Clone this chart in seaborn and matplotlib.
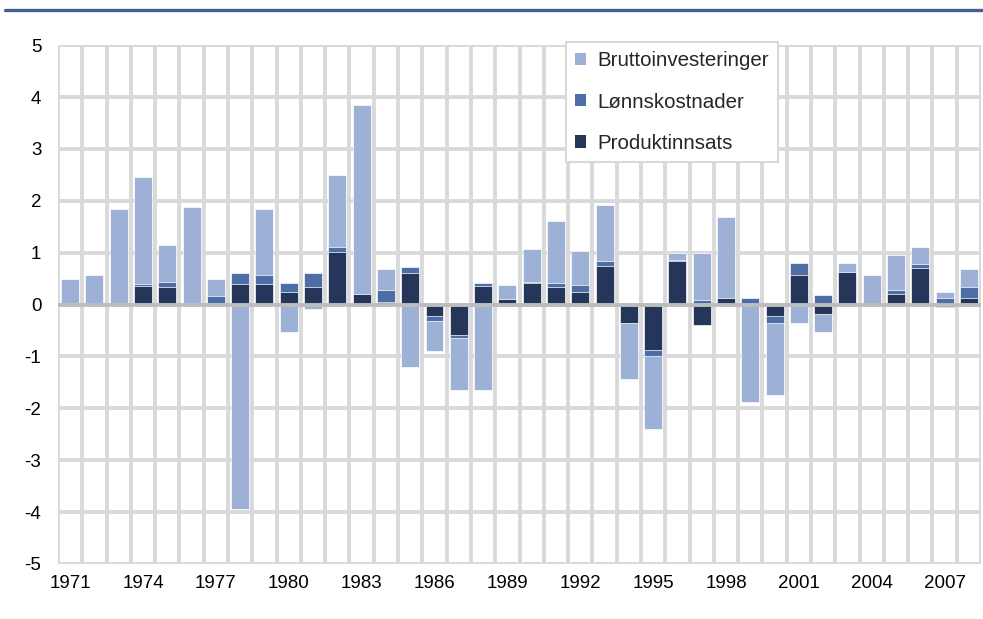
"""
Stacked bar chart: contributions from Produktinnsats, Lønnskostnader and
Bruttoinvesteringer per year, 1971-2008.
Positive and negative parts are stacked separately, like in Excel.
"""

import numpy as np
import matplotlib
matplotlib.use('Agg')
import matplotlib.pyplot as plt
from matplotlib.patches import Patch
from matplotlib.lines import Line2D
import seaborn as sns

# Data
years = list(range(1971, 2009))
produktinnsats = [0.03, 0.00, 0.03, 0.36, 0.33, 0.00, 0.03, 0.40, 0.40, 0.25,
                  0.33, 1.02, 0.21, 0.05, 0.61, -0.23, -0.58, 0.36, 0.10,
                  0.41, 0.33, 0.25, 0.74, -0.35, -0.88, 0.83, -0.40, 0.13,
                  0.00, -0.23, 0.56, -0.19, 0.63, -0.03, 0.21, 0.71, -0.04,
                  0.13]
lonnskostnader = [0.00, 0.00, 0.00, 0.04, 0.11, 0.03, 0.14, 0.21, 0.16, 0.17,
                  0.28, 0.08, 0.00, 0.24, 0.12, -0.08, -0.07, 0.06, 0.00,
                  0.03, 0.08, 0.12, 0.09, 0.03, -0.12, 0.03, 0.09, 0.00,
                  0.12, -0.12, 0.25, 0.19, 0.00, 0.00, 0.08, 0.08, 0.13,
                  0.20]
bruttoinvesteringer = [0.46, 0.57, 1.81, 2.06, 0.71, 1.85, 0.32, -3.95, 1.28,
                       -0.52, -0.08, 1.40, 3.64, 0.40, -1.21, -0.59, -0.99,
                       -1.64, 0.28, 0.63, 1.20, 0.66, 1.09, -1.09, -1.40,
                       0.14, 0.91, 1.56, -1.87, -1.40, -0.36, -0.33, 0.18,
                       0.57, 0.67, 0.32, 0.11, 0.36]
series_names = ['Produktinnsats', 'Lønnskostnader', 'Bruttoinvesteringer']
colors = ['#26365A', '#4C6DA5', '#9DB0D5']
y_ticks = list(range(-5, 6))
x_label_step = 3


def stacked_levels(values_list):
    # cumulative top of each segment, positive and negative kept apart
    arr = np.array(values_list)
    pos = np.cumsum(np.clip(arr, 0, None), axis=0)
    neg = np.cumsum(np.clip(arr, None, 0), axis=0)
    return pos, neg


def make_plot():
    sns.set_style('white')
    plt.rcParams['font.family'] = ['Liberation Sans', 'DejaVu Sans']
    plt.rcParams['axes.unicode_minus'] = False

    fig = plt.figure(figsize=(9.83, 6.19), dpi=100)
    ax = fig.add_axes([0.059, 0.089, 0.939, 0.838])

    labels = [str(y) for y in years]
    pos, neg = stacked_levels([produktinnsats, lonnskostnader,
                               bruttoinvesteringer])

    # draw the outermost segment first so the inner ones sit on top
    for i in [2, 1, 0]:
        for level in (pos[i], neg[i]):
            sns.barplot(x=labels, y=level, color=colors[i], saturation=1,
                        width=0.74, edgecolor='white', linewidth=0.5,
                        errorbar=None, ax=ax, zorder=2)

    # grid: vertical lines between categories, horizontal at each unit
    ax.set_xlim(-0.5, len(years) - 0.5)
    ax.set_ylim(-5, 5)
    ax.set_yticks(y_ticks)
    ax.set_xticks(np.arange(-0.5, len(years), 1), minor=True)
    ax.set_xticks(range(0, len(years), x_label_step))
    ax.set_xticklabels(labels[::x_label_step])
    ax.grid(which='minor', axis='x', color='#d9d9d9', linewidth=2.8,
            zorder=0)
    ax.grid(which='major', axis='y', color='#d9d9d9', linewidth=2.8,
            zorder=0)
    ax.grid(which='major', axis='x', visible=False)
    ax.set_axisbelow(True)
    ax.axhline(0, color='#bdbdbd', linewidth=2.8, zorder=5)

    for s in ax.spines.values():
        s.set_visible(False)
    ax.tick_params(axis='both', which='both', length=0, labelsize=13.5,
                   colors='black')
    ax.tick_params(axis='x', pad=8)
    ax.tick_params(axis='y', pad=12)
    ax.set_xlabel('')
    ax.set_ylabel('')

    # legend in the order of the reference
    handles = [Patch(facecolor=colors[i], edgecolor='none')
               for i in [2, 1, 0]]
    leg = ax.legend(handles, [series_names[i] for i in [2, 1, 0]],
                    loc='upper left', bbox_to_anchor=(0.55, 1.006),
                    fontsize=14.8, frameon=True, fancybox=False,
                    edgecolor='#d9d9d9', framealpha=1, borderaxespad=0,
                    handlelength=0.55, handleheight=0.55, handletextpad=0.55,
                    labelspacing=1.08, borderpad=0.45)
    leg.get_frame().set_linewidth(1.5)
    leg.set_zorder(10)

    # blue rule across the top of the figure
    fig.add_artist(Line2D([0.005, 1.0], [0.984, 0.984], color='#46618F',
                          linewidth=2.4, transform=fig.transFigure))

    fig.savefig('out.png', dpi=100)


def main():
    make_plot()


if __name__ == '__main__':
    main()
